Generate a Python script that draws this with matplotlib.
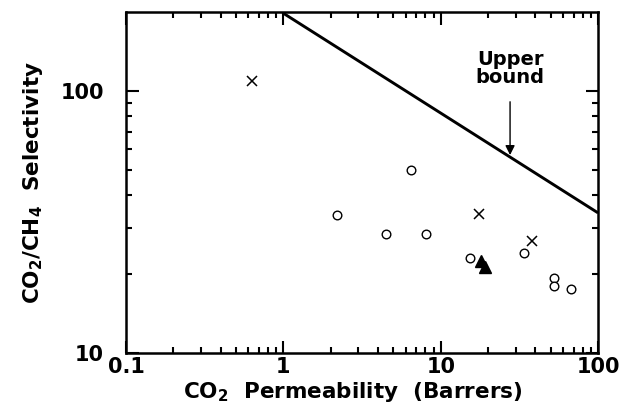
import matplotlib
matplotlib.use("Agg")
import matplotlib.pyplot as plt
from matplotlib.ticker import LogLocator, NullFormatter, FixedLocator, FixedFormatter

plt.rcParams['font.family'] = ['DejaVu Sans']
plt.rcParams['font.weight'] = 'bold'
plt.rcParams['mathtext.fontset'] = 'custom'
plt.rcParams['mathtext.rm'] = 'DejaVu Sans:bold'
plt.rcParams['mathtext.bf'] = 'DejaVu Sans:bold'
plt.rcParams['mathtext.default'] = 'rm'

# Membrane data: CO2 permeability (Barrers) vs CO2/CH4 selectivity
circle_perm = [2.2, 4.5, 6.5, 8.1, 15.3, 33.6, 52.8, 52.8, 67.5]
circle_sel = [33.8, 28.5, 50.0, 28.5, 23.1, 24.1, 19.4, 18.1, 17.6]

cross_perm = [0.63, 17.6, 38.3]
cross_sel = [109, 34, 26.9]

triangle_perm = [18.1, 19.2]
triangle_sel = [22.4, 21.4]

# Upper bound trade-off line
bound_perm = [1, 100]
bound_sel = [198, 34.3]

# Annotation for the upper bound
arrow_tail = (27.6, 91)
arrow_head = (27.6, 57)

x_ticks = [0.1, 1, 10, 100]
x_ticklabels = ['0.1', '1', '10', '100']
y_ticks = [10, 100]
y_ticklabels = ['10', '100']

fig = plt.figure(figsize=(6.21, 4.18), dpi=100)
ax = fig.add_axes([0.203, 0.155, 0.760, 0.816])

ax.set_xscale('log')
ax.set_yscale('log')
ax.set_xlim(0.1, 100)
ax.set_ylim(10, 200)

ax.plot(bound_perm, bound_sel, color='black', lw=2.1, solid_capstyle='butt', zorder=2)
ax.plot(circle_perm, circle_sel, 'o', ms=6.2, mfc='white', mec='black', mew=1.0, ls='none', zorder=3)
ax.plot(cross_perm, cross_sel, 'x', ms=6.8, mec='black', mew=1.1, ls='none', zorder=3)
ax.plot(triangle_perm, triangle_sel, '^', ms=8, mfc='black', mec='black', ls='none', zorder=3)

ax.annotate('', xy=arrow_head, xytext=arrow_tail,
            arrowprops=dict(arrowstyle='-|>', color='black', lw=1.0,
                            mutation_scale=14, shrinkA=0, shrinkB=0))
ax.text(27.6, 104, 'Upper\nbound', ha='center', va='bottom', fontsize=14,
        fontweight='bold', linespacing=0.9)

ax.xaxis.set_major_locator(FixedLocator(x_ticks))
ax.xaxis.set_major_formatter(FixedFormatter(x_ticklabels))
ax.xaxis.set_minor_locator(LogLocator(base=10, subs=range(2, 10)))
ax.xaxis.set_minor_formatter(NullFormatter())
ax.yaxis.set_major_locator(FixedLocator(y_ticks))
ax.yaxis.set_major_formatter(FixedFormatter(y_ticklabels))
ax.yaxis.set_minor_locator(FixedLocator([20, 30, 40, 50, 60, 70, 80, 90]))
ax.yaxis.set_minor_formatter(NullFormatter())

ax.tick_params(which='both', direction='in', top=True, right=True, width=1.5)
ax.tick_params(which='major', length=9, labelsize=15)
ax.tick_params(axis='x', which='major', pad=3)
ax.tick_params(axis='y', which='major', pad=16)
ax.tick_params(which='minor', length=4.5)
for lab in ax.get_xticklabels() + ax.get_yticklabels():
    lab.set_fontweight('bold')
for sp in ax.spines.values():
    sp.set_linewidth(1.8)

ax.set_xlabel(r'CO$_2$  Permeability  (Barrers)', fontsize=15.5, fontweight='bold', labelpad=2)
ax.xaxis.label.set_x(0.48)
ax.set_ylabel(r'CO$_2$/CH$_4$  Selectivity', fontsize=15.5, fontweight='bold', labelpad=11)

fig.savefig('out.png', dpi=100)
